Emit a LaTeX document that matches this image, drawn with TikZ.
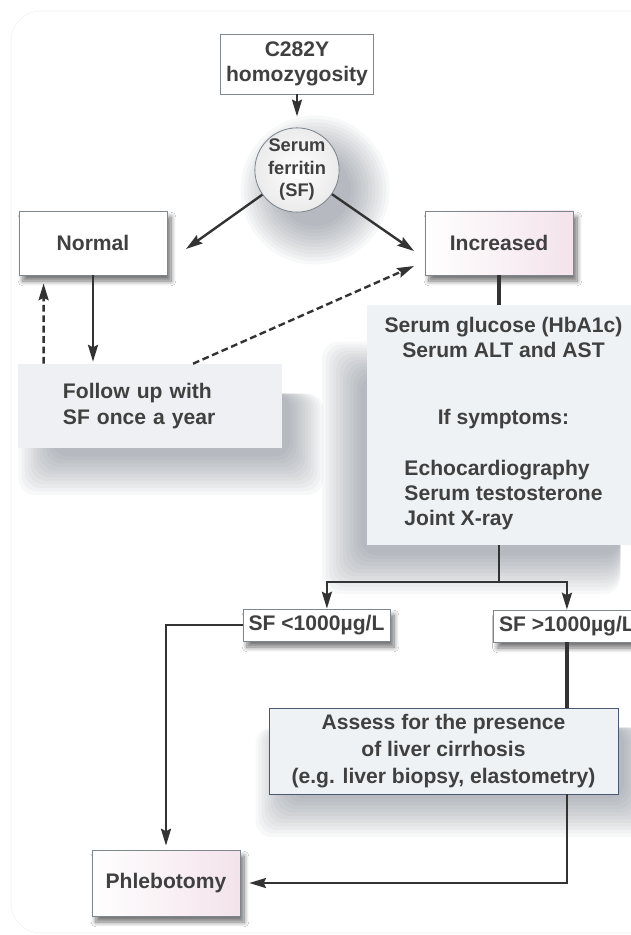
\documentclass[tikz,border=0pt]{standalone}
\usepackage{fontspec}
\setmainfont{Liberation Sans}
\usepackage{tikz}
\usetikzlibrary{arrows.meta, calc, positioning, backgrounds, shadows, shadows.blur}
\definecolor{textgrey}{HTML}{404040}
\definecolor{linegrey}{HTML}{333333}
\definecolor{edgegrey}{HTML}{7E868E}
\definecolor{paleblue}{HTML}{EEF2F5}
\definecolor{palegrey}{HTML}{EFF0F3}
\definecolor{palepink}{HTML}{F3E3EB}
\definecolor{slateedge}{HTML}{4A5870}
\definecolor{shadowgrey}{HTML}{5A6470}

\begin{document}
\begin{tikzpicture}[x=0.025cm, y=-0.025cm,
  every node/.style={font=\fontsize{15}{18}\selectfont\bfseries, text=textgrey},
  plainbox/.style={rectangle, draw=edgegrey, fill=white, line width=0.6pt, align=center},
  softbox/.style={plainbox, blur shadow={shadow xshift=0.1cm, shadow yshift=-0.15cm, shadow blur radius=0.12cm, shadow blur steps=8, shadow opacity=55}},
  pinkbox/.style={softbox, left color=white, middle color=white, right color=palepink},
  haze/.style={fill=shadowgrey, fill opacity=0.045, rounded corners=0.4cm},
  conn/.style={line width=1.7pt, draw=linegrey},
  heavyconn/.style={conn, line width=2.4pt},
  arrow/.style={conn, -{Stealth[length=0.42cm, width=0.25cm, inset=0.06cm]}},
  dasharrow/.style={arrow, dash pattern=on 0.17cm off 0.09cm}
]
  \useasboundingbox (0,0) rectangle (631,935);

  % top of the chart
  \node[plainbox, minimum width=3.83cm, minimum height=1.5cm] (c282y) at (297,64) {C282Y\\homozygosity};
  \node[circle, draw=edgegrey, inner color=white, outer color=black!8, line width=0.6pt, minimum size=2.1cm, inner sep=0pt, align=center,
        font=\fontsize{13}{16}\selectfont\bfseries] (ferritin) at (297,170) {Serum\\ferritin\\(SF)};

  \node[softbox, minimum width=3.7cm, minimum height=1.6cm] (normal) at (93,243) {Normal};
  \node[pinkbox, minimum width=3.7cm, minimum height=1.6cm] (increased) at (499,243) {Increased};

  \node[fill=palegrey, inner xsep=1.125cm, text width=4.35cm, align=left, minimum height=2.1cm] (followup) at (150,406) {Follow up with\\SF once a year};

  \node[fill=paleblue, minimum width=6.825cm, minimum height=6cm, align=center] (tests) at (503.5,425)
       {Serum glucose (HbA1c)\\Serum ALT and AST\\[1.05cm]If symptoms:\\[0.625cm]%
        \begin{tabular}[t]{@{}l@{}}Echocardiography\\Serum testosterone\\Joint X-ray\end{tabular}};

  % lower part
  \node[softbox, minimum width=3.675cm, minimum height=0.8cm, inner xsep=0.1cm, inner ysep=0pt] (sflow) at (316.5,625) {SF <1000µg/L};
  \node[softbox, anchor=west, minimum width=3.675cm, minimum height=0.8cm, inner xsep=0.1cm, inner ysep=0pt] (sfhigh) at (493,626) {SF >1000µg/L};
  \node[plainbox, fill=paleblue, draw=slateedge, minimum width=8.725cm, minimum height=2.15cm,
        font=\fontsize{15}{19}\selectfont\bfseries] (assess) at (443.5,751)
       {Assess for the presence\\of liver cirrhosis\\(e.g. liver biopsy, elastometry)};
  \node[pinkbox, minimum width=3.7cm, minimum height=1.65cm] (phleb) at (166,883) {Phlebotomy};

  % frame and soft shadows
  \begin{scope}[on background layer]
    \draw[draw=black!6, fill=white, rounded corners=0.75cm] (11,11) rectangle (660,933);
    \foreach \k in {0,...,11} {
      \fill[haze] ($(ferritin.center)+(18,20)$) circle (36+3.5*\k);
      \fill[haze] ($(followup.north west)+(34-3*\k,30)$) rectangle ($(followup.south east)+(8+3*\k,8+3.5*\k)$);
      \fill[haze] ($(tests.north west)+(-6-3.5*\k,70-3*\k)$) rectangle ($(tests.south east)+(-20,10+3.5*\k)$);
      \fill[haze] ($(assess.north west)+(20-3*\k,20)$) rectangle ($(assess.south east)+(6+3*\k,4+3.5*\k)$);
    }
  \end{scope}

  \coordinate (normalin) at (186,249);
  \coordinate (increasedin) at (414,251);
  \coordinate (dashin) at (414,266);
  \coordinate (split) at (499,582);

  \draw[arrow, shorten >=0.275cm] (c282y) -- (ferritin);
  \draw[arrow] (ferritin) -- (normalin);
  \draw[arrow] (ferritin) -- (increasedin);
  \draw[arrow, shorten >=0.05cm] (normal) -- (normal |- followup.north);
  \draw[dasharrow, shorten >=0.2cm] ([xshift=0.65cm]followup.north west) -- ([xshift=0.625cm]normal.south west);
  \draw[dasharrow] ([xshift=1.075cm]followup.north) -- (dashin);
  \draw[heavyconn] (increased) -- (increased |- tests.north);

  \draw[conn] (tests.south -| split) -- (split);
  \draw[arrow] (split) -| ([xshift=0.26cm]sflow.north);
  \draw[arrow] (split) -| (sfhigh.north);
  \draw[arrow, shorten >=0.1cm] (sflow.west) -| (phleb);
  \draw[heavyconn] (sfhigh) -- (sfhigh |- assess.north);
  \draw[arrow, shorten >=0.22cm] (assess.south -| sfhigh) |- (phleb);
\end{tikzpicture}
\end{document}
